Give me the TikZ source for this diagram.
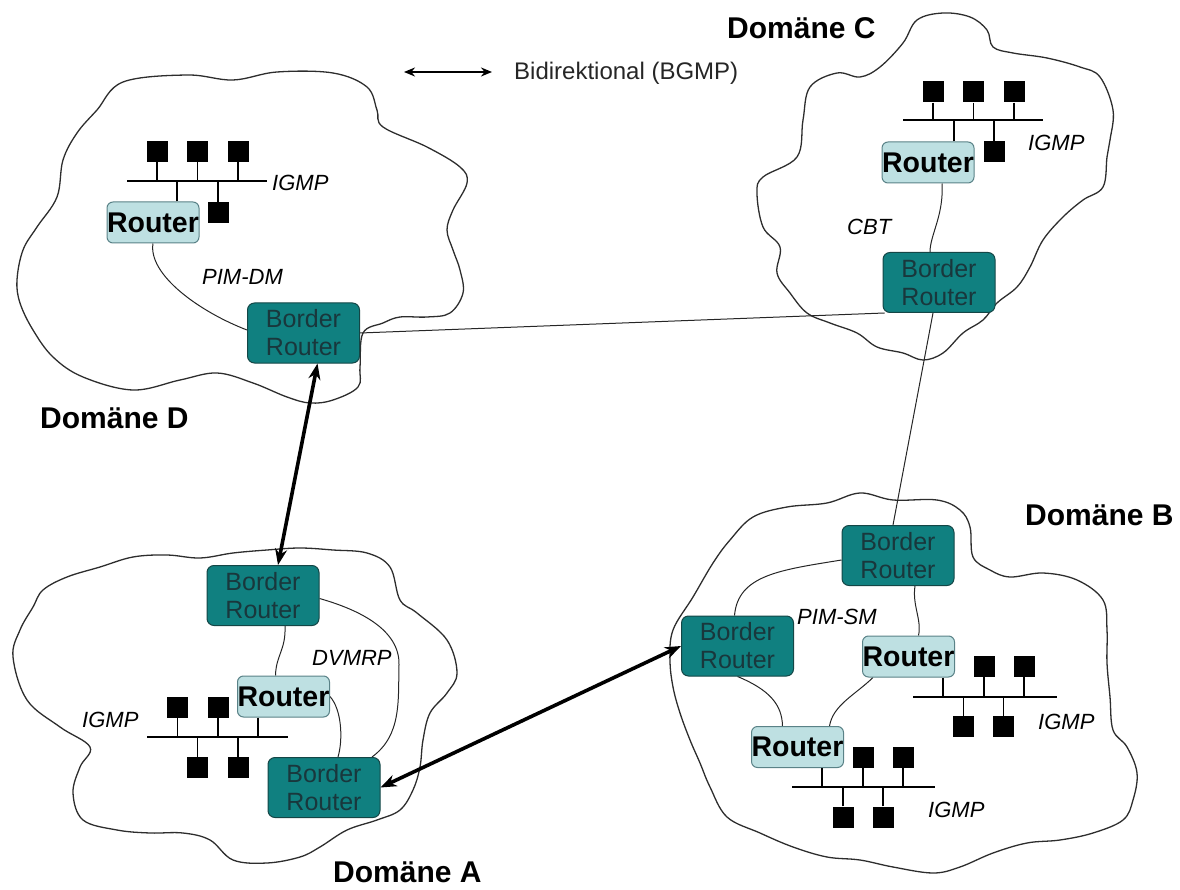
\documentclass[tikz,border=0pt]{standalone}
\usepackage{fontspec}
\setmainfont{Liberation Sans}
\usetikzlibrary{arrows.meta,backgrounds}
\definecolor{brfill}{RGB}{16,128,128}
\definecolor{brdraw}{RGB}{20,70,70}
\definecolor{brtext}{RGB}{25,55,60}
\definecolor{rtfill}{RGB}{190,224,226}
\definecolor{rtdraw}{RGB}{90,130,135}
\definecolor{cloudc}{RGB}{45,45,45}
\tikzset{
  br/.style={draw=brdraw, line width=1pt, fill=brfill, rounded corners=7pt, minimum width=112pt, minimum height=60pt, text=brtext, font=\fontsize{25}{28}\selectfont, align=center, inner sep=0pt},
  rt/.style={draw=rtdraw, line width=1pt, fill=rtfill, rounded corners=6pt, minimum width=92pt, minimum height=41pt, font=\bfseries\fontsize{28.5}{30}\selectfont, inner sep=0pt},
  host/.style={fill=black, minimum size=21pt, inner sep=0pt},
  lbl/.style={font=\itshape\fontsize{22}{24}\selectfont, anchor=west, inner sep=0pt},
  dom/.style={font=\bfseries\fontsize{30}{32}\selectfont, anchor=west, inner sep=0pt},
  cloud/.style={draw=cloudc, line width=1.3pt},
  link/.style={draw=black!85, line width=1pt},
  bus/.style={draw=black, line width=1.1pt},
  bgmp/.style={line width=3.6pt, {Stealth[length=16pt,width=12pt]}-{Stealth[length=16pt,width=12pt]}},
}
\begin{document}
\begin{tikzpicture}[x=1pt,y=-1pt]
\useasboundingbox (0,0) rectangle (1180,890);

% ---------- nodes ----------
\node[br] (brD) at (303.5,333) {Border\\Router};
\node[br] (brC) at (939,282.5) {Border\\Router};
\node[br] (brA) at (263,595.5) {Border\\Router};
\node[br] (brA2) at (324,787.5) {Border\\Router};
\node[br] (brB) at (898,555.5) {Border\\Router};
\node[br] (brBl) at (737.5,646) {Border\\Router};

\node[rt] (rD) at (153,222.5) {Router};
\node[rt] (rC) at (928,162.5) {Router};
\node[rt] (rA) at (283.5,696.5) {Router};
\node[rt] (rBr) at (908.5,656.5) {Router};
\node[rt] (rBb) at (797.5,747) {Router};

% hosts
\node[host] (hD1) at (157,151.5) {};
\node[host] (hD2) at (197.5,151.5) {};
\node[host] (hD3) at (238,151.5) {};
\node[host] (hD4) at (218,212.5) {};
\node[host] (hC1) at (933,92) {};
\node[host] (hC2) at (973.5,92) {};
\node[host] (hC3) at (1014,92) {};
\node[host] (hC4) at (994,152) {};
\node[host] (hA1) at (177.5,707) {};
\node[host] (hA2) at (218,707) {};
\node[host] (hA3) at (197.5,767.5) {};
\node[host] (hA4) at (238,767.5) {};
\node[host] (hB1) at (984,666.5) {};
\node[host] (hB2) at (1024,666.5) {};
\node[host] (hB3) at (963.5,726.5) {};
\node[host] (hB4) at (1003.5,726.5) {};
\node[host] (hE1) at (863,757) {};
\node[host] (hE2) at (903,757) {};
\node[host] (hE3) at (843,817) {};
\node[host] (hE4) at (883,817) {};

% bus coordinates
\coordinate (dbL) at (127,181); \coordinate (dbR) at (267,181);
\coordinate (cbL) at (903,120); \coordinate (cbR) at (1043,120);
\coordinate (abL) at (147,737); \coordinate (abR) at (288,737);
\coordinate (bbL) at (913,697); \coordinate (bbR) at (1057,697);
\coordinate (ebL) at (792,787); \coordinate (ebR) at (935,787);
\coordinate (dD) at ([xshift=24pt]rD.north);
\coordinate (dC) at ([xshift=26pt]rC.north);
\coordinate (dA) at ([xshift=-25.5pt]rA.south);
\coordinate (dB) at ([xshift=34.5pt]rBr.south);
\coordinate (dE) at ([xshift=24.5pt]rBb.south);

\draw[bus] (dbL) -- (dbR);
\draw[bus] (cbL) -- (cbR);
\draw[bus] (abL) -- (abR);
\draw[bus] (bbL) -- (bbR);
\draw[bus] (ebL) -- (ebR);
\foreach \h in {hD1,hD2,hD3} \draw[bus] (\h.south) -- (\h.south |- dbL);
\draw[bus] (hD4.north) -- (hD4.north |- dbL);
\draw[bus] (dD) -- (dD |- dbL);
\foreach \h in {hC1,hC2,hC3} \draw[bus] (\h.south) -- (\h.south |- cbL);
\draw[bus] (hC4.north) -- (hC4.north |- cbL);
\draw[bus] (dC) -- (dC |- cbL);
\foreach \h in {hA1,hA2} \draw[bus] (\h.south) -- (\h.south |- abL);
\foreach \h in {hA3,hA4} \draw[bus] (\h.north) -- (\h.north |- abL);
\draw[bus] (dA) -- (dA |- abL);
\foreach \h in {hB1,hB2} \draw[bus] (\h.south) -- (\h.south |- bbL);
\foreach \h in {hB3,hB4} \draw[bus] (\h.north) -- (\h.north |- bbL);
\draw[bus] (dB) -- (dB |- bbL);
\foreach \h in {hE1,hE2} \draw[bus] (\h.south) -- (\h.south |- ebL);
\foreach \h in {hE3,hE4} \draw[bus] (\h.north) -- (\h.north |- ebL);
\draw[bus] (dE) -- (dE |- ebL);

% labels
\node[lbl] (igD) at (272,183) {IGMP};
\node[lbl] (igC) at (1028,143) {IGMP};
\node[lbl] (igA) at (82,720) {IGMP};
\node[lbl] (igB) at (1038,722) {IGMP};
\node[lbl] (igE) at (928,810) {IGMP};
\node[lbl] (pimdm) at (202,277) {PIM-DM};
\node[lbl] (cbt) at (847,227) {CBT};
\node[lbl] (dvmrp) at (312,658) {DVMRP};
\node[lbl] (pimsm) at (797,617) {PIM-SM};
\node[dom] (domC) at (727,28) {Domäne C};
\node[dom] (domD) at (40,418) {Domäne D};
\node[dom] (domB) at (1025,515) {Domäne B};
\node[dom] (domA) at (333,872) {Domäne A};

% legend
\coordinate (legL) at (404,72);
\coordinate (legR) at (492,72);
\draw[line width=2.2pt, {Stealth[length=11pt,width=9pt]}-{Stealth[length=11pt,width=9pt]}] (legL) -- (legR);
\node[anchor=west, inner sep=0pt, font=\fontsize{24}{28}\selectfont, text=black!85] (leg) at (514,73) {Bidirektional (BGMP)};

% ---------- background: clouds and links ----------
\begin{pgfonlayer}{background}
% Cloud D
\draw[cloud] plot[smooth cycle, tension=0.6] coordinates {
 (123,82) (187,75) (233,80) (277,72) (333,73) (367,87) (377,110) (383,127)
 (427,147) (460,167) (467,183) (453,210) (447,230) (453,250) (460,270) (463,293)
 (450,313) (427,317) (400,317) (383,323) (363,333) (360,367) (358,387) (333,400)
 (310,403) (287,397) (253,383) (217,373) (180,380) (133,390) (83,377) (53,357)
 (33,330) (20,303) (17,280) (23,250) (37,227) (57,197) (63,160) (77,133) (97,110)};
% Cloud C
\draw[cloud] plot[smooth cycle, tension=0.6] coordinates {
 (917,20) (943,13) (970,17) (987,30) (993,47) (1013,53) (1047,58) (1080,67)
 (1100,77) (1113,110) (1110,140) (1107,157) (1103,187) (1083,200) (1063,217)
 (1043,240) (1030,267) (1017,287) (997,303) (983,320) (963,333) (943,353)
 (923,360) (903,353) (877,347) (857,333) (830,323) (807,313) (790,293) (777,273)
 (780,247) (763,227) (757,193) (763,177) (797,157) (803,120) (810,87) (837,73)
 (860,77) (880,67) (903,43)};
% Cloud A
\draw[cloud] plot[smooth cycle, tension=0.6] coordinates {
 (43,590) (67,577) (100,567) (133,557) (167,555) (200,558) (233,553) (267,550)
 (300,548) (333,550) (367,553) (390,567) (400,600) (417,613) (447,640) (457,673)
 (447,693) (430,713) (423,740) (420,767) (413,790) (400,810) (377,820) (347,830)
 (320,847) (300,857) (267,863) (233,860) (210,840) (183,833) (150,833) (117,830)
 (83,820) (73,793) (80,767) (90,747) (60,727) (27,700) (13,657) (20,630) (33,607)};
% Cloud B
\draw[cloud] plot[smooth cycle, tension=0.6] coordinates {
 (730,540) (753,517) (787,507) (827,503) (860,493) (893,500) (937,500) (960,510)
 (970,527) (973,557) (990,570) (1010,577) (1043,573) (1077,580) (1103,600)
 (1107,630) (1107,663) (1110,697) (1113,730) (1127,747) (1137,773) (1133,800)
 (1123,820) (1093,833) (1060,840) (1027,843) (993,853) (960,867) (933,873)
 (893,867) (860,860) (827,857) (793,847) (760,833) (727,817) (710,787) (700,763)
 (690,740) (680,713) (673,687) (670,660) (673,630) (693,597) (713,563)};

% links domain D
\draw[link] (rD.south) .. controls (148,275) and (200,312) .. ([yshift=3pt]brD.west);
\draw[link] (brD.east) -- ([xshift=2pt]brC.south west);
% links domain C
\draw[link] ([xshift=14pt]rC.south) .. controls (944,215) and (930,235) .. ([xshift=-9pt]brC.north);
\draw[link] ([xshift=-6pt]brC.south) -- ([xshift=-5pt]brB.north);
% links domain A
\draw[link] ([xshift=22pt]brA.south) .. controls (286,650) and (276,655) .. ([xshift=-8pt]rA.north);
\draw[link] ([yshift=-3pt]brA.east) .. controls (360,610) and (400,630) .. (399,665)
  .. controls (398,700) and (402,735) .. ([xshift=48pt]brA2.north);
\draw[link] (rA.east) .. controls (342,710) and (343,740) .. ([xshift=14pt]brA2.north);
% links domain B
\draw[link] ([yshift=-4.5pt]brB.west) .. controls (780,570) and (738,575) .. ([xshift=-3pt]brBl.north);
\draw[link] ([xshift=17pt]brB.south) .. controls (912,605) and (922,620) .. ([xshift=10pt]rBr.north);
\draw[link] (brBl.south) .. controls (770,690) and (782,705) .. ([xshift=-15pt]rBb.north);
\draw[link] ([xshift=-35.5pt]rBr.south) .. controls (855,695) and (833,705) .. ([xshift=32pt]rBb.north);
\end{pgfonlayer}

% BGMP arrows
\draw[bgmp] ([xshift=14pt]brD.south) -- ([xshift=15pt]brA.north);
\draw[bgmp] (brA2.east) -- (brBl.west);
\end{tikzpicture}
\end{document}
